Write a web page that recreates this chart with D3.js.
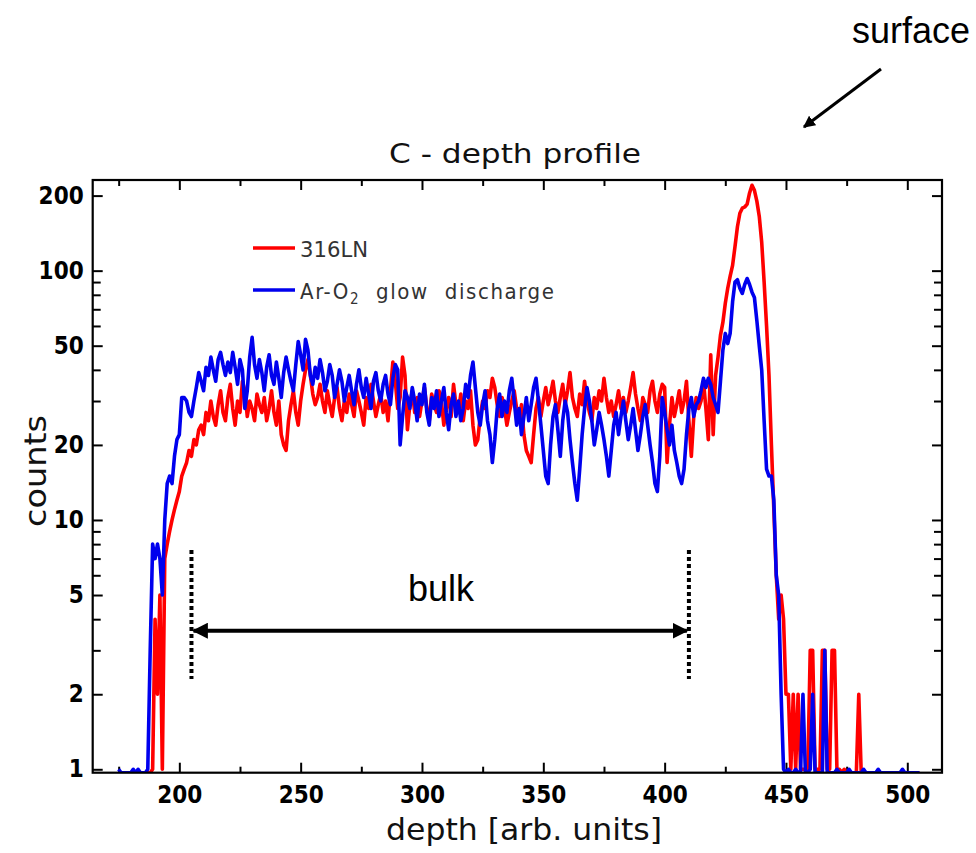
<!DOCTYPE html>
<html><head><meta charset="utf-8">
<script src="https://cdn.jsdelivr.net/npm/d3@7"></script>
<style>body{margin:0;background:#fff} svg{display:block}</style>
</head><body><svg id="c" width="976" height="853"></svg>
<script>
// ---------- DATA ----------
const depthStart = 175;   // depth of first sample, 1 unit per sample
const red316LN = [
  0,0,0,0,0,0,0,0,0,0,          // 175
  0,0,0,0,1,4,2,5,1,7,          // 185
  8,9,10,11,12,13,15,16,17,19,  // 195
  18,21,20,23,24,22,27,25,30,26,// 205
  24,29,33,27,25,31,35,28,24,30,// 215
  27,36,33,26,30,28,25,32,29,27,// 225
  31,25,28,33,27,24,30,22,20,19,// 235
  25,29,33,27,24,30,35,40,44,38,// 245
  32,29,31,35,30,27,33,29,26,31,// 255
  34,28,25,30,27,32,29,26,33,30,// 265
  27,24,31,28,35,30,26,29,32,27,// 275
  30,25,33,43,36,28,31,45,38,23,// 285
  29,33,27,31,26,30,34,28,25,32,// 295
  29,27,33,30,24,28,31,26,35,29,// 305
  27,32,25,30,28,33,24,20,21,26,// 315
  30,28,33,31,37,34,29,26,31,28,// 325
  24,27,30,33,28,25,29,22,19,18,// 335
  17,22,28,31,26,30,34,29,32,36,// 345
  30,27,31,35,29,33,39,31,28,26,// 355
  32,29,36,30,27,25,31,28,33,30,// 365
  37,31,27,30,26,29,33,28,31,27,// 375
  30,34,39,32,28,25,31,29,27,33,// 385
  36,30,27,32,35,34,17,24,31,26,// 395
  29,33,27,30,36,25,18,26,31,28,// 405
  30,36,28,21,46,22,38,45,55,62,// 415
  74,85,95,105,125,150,170,178,180,185, // 425
  205,220,210,190,165,130,90,60,38,20,  // 435
  11,6,4,5,4,2,2,1,2,1,         // 445
  2,1,1,1,1,3,3,1,1,1,          // 455
  3,3,1,1,3,3,1,1,0,1,          // 465
  0,0,0,0,0,2,0,0,0,0,          // 475
  0,0,0,0,0,0,0,0,0,0,          // 485
  0,0,0,0,0,0,0,0,0,0,          // 495
  0                             // 505
];
const blueArO2 = [
  1,0,0,0,0,0,1,0,1,0,          // 175
  0,0,1,3,8,7,8,7,5,10,         // 185
  14,15,14,18,21,22,31,31,30,27,// 195
  26,30,34,39,36,33,41,38,45,40,// 205
  36,44,47,42,38,43,39,47,41,35,// 215
  44,40,28,33,45,54,42,37,44,39,// 225
  33,41,46,38,35,43,37,31,39,45,// 235
  40,36,33,42,52,46,40,53,48,38,// 245
  35,41,37,44,39,33,36,42,38,31,// 255
  35,40,36,30,34,38,33,29,35,40,// 265
  34,31,37,32,28,36,39,33,30,35,// 275
  38,32,29,37,42,40,20,26,33,31,// 285
  28,34,30,25,32,29,35,27,24,31,// 295
  28,33,26,30,34,27,23,29,32,26,// 305
  30,25,28,35,31,38,43,34,27,24,// 315
  29,33,25,22,17,21,28,32,26,30,// 325
  27,33,37,30,24,28,22,26,31,25,// 335
  29,34,37,30,24,19,15,14,20,26,// 345
  29,23,18,25,30,27,21,17,14,12,// 355
  16,22,28,34,30,25,20,23,27,24,// 365
  21,18,15,19,24,27,22,26,30,25,// 375
  21,24,28,23,19,22,26,29,24,20,// 385
  17,14,13,18,31,27,23,20,24,19,// 395
  17,15,14,16,22,28,31,26,29,30,// 405
  33,37,34,37,35,31,29,27,36,48,// 415
  56,51,56,75,90,92,85,81,88,93,// 425
  88,82,78,63,50,40,25,16,15,15,// 435
  12,6,5,2,1,0,1,0,0,1,         // 445
  0,0,2,0,0,1,2,0,0,0,          // 455
  0,3,0,0,0,0,1,0,0,0,          // 465
  0,1,0,0,0,0,0,1,0,0,          // 475
  0,0,0,1,0,0,0,0,0,0,          // 485
  0,0,0,1,0,0,0,0,0,0,          // 495
  0                             // 505
];
const seriesNames = ["316LN", "Ar-O\u2082 glow discharge"];
const xTickLabels = [200, 250, 300, 350, 400, 450, 500];
const xMinorTicks = [175, 225, 275, 325, 375, 425, 475];
const yTickLabels = [1, 2, 5, 10, 20, 50, 100, 200];
const yMinorTicks = [3, 4, 6, 7, 8, 9, 30, 40, 60, 70, 80, 90];
const bulkRange = [205, 410];

// ---------- CHART ----------
const svg = d3.select("#c");
svg.append("rect").attr("width", 976).attr("height", 853).attr("fill", "#fff");

const L = 92.7, R = 942, T = 180, B = 772.7;
const yMin = 0.969, yMax = 231;
const x = d3.scaleLinear().domain([164.3, 514.3]).range([L, R]);
const y = d3.scaleLog().domain([yMin, yMax]).range([B, T]);

const tickFont = "'Liberation Sans Narrow','DejaVu Sans Condensed',sans-serif";

function styleAxis(g) {
  g.select(".domain").remove();
  g.selectAll(".tick line").attr("stroke", "#000").attr("stroke-width", 2);
  g.selectAll("text").attr("font-family", tickFont).attr("font-weight", "bold")
    .attr("font-size", 24).attr("fill", "#000");
}

// bottom axis
svg.append("g").attr("transform", `translate(0,${B})`)
  .call(d3.axisBottom(x).tickValues(xTickLabels).tickSize(-10).tickPadding(13).tickFormat(d3.format("d")))
  .call(styleAxis);
svg.append("g").attr("transform", `translate(0,${B})`)
  .call(d3.axisBottom(x).tickValues(xMinorTicks).tickSize(-6).tickFormat(""))
  .call(styleAxis);
// top axis
svg.append("g").attr("transform", `translate(0,${T})`)
  .call(d3.axisTop(x).tickValues(xTickLabels).tickSize(-10).tickFormat(""))
  .call(styleAxis);
svg.append("g").attr("transform", `translate(0,${T})`)
  .call(d3.axisTop(x).tickValues(xMinorTicks).tickSize(-6).tickFormat(""))
  .call(styleAxis);
// left axis
svg.append("g").attr("transform", `translate(${L},0)`)
  .call(d3.axisLeft(y).tickValues(yTickLabels).tickSize(-10).tickPadding(9).tickFormat(d3.format("d")))
  .call(styleAxis);
svg.append("g").attr("transform", `translate(${L},0)`)
  .call(d3.axisLeft(y).tickValues(yMinorTicks).tickSize(-8).tickFormat(""))
  .call(styleAxis);
// right axis
svg.append("g").attr("transform", `translate(${R},0)`)
  .call(d3.axisRight(y).tickValues(yTickLabels).tickSize(-10).tickFormat(""))
  .call(styleAxis);
svg.append("g").attr("transform", `translate(${R},0)`)
  .call(d3.axisRight(y).tickValues(yMinorTicks).tickSize(-8).tickFormat(""))
  .call(styleAxis);

// data lines
svg.append("clipPath").attr("id", "pc").append("rect")
  .attr("x", L).attr("y", T).attr("width", R - L).attr("height", B - T);
const line = d3.line()
  .x((d, i) => x(depthStart + i))
  .y(d => y(Math.max(d, yMin)))
  .curve(d3.curveLinear);
const plot = svg.append("g").attr("clip-path", "url(#pc)");
plot.append("path").datum(red316LN).attr("d", line)
  .attr("fill", "none").attr("stroke", "#ff0000").attr("stroke-width", 3.6).attr("stroke-linejoin", "round");
plot.append("path").datum(blueArO2).attr("d", line)
  .attr("fill", "none").attr("stroke", "#0000ee").attr("stroke-width", 3.6).attr("stroke-linejoin", "round");

// frame
svg.append("rect").attr("x", L).attr("y", T).attr("width", R - L).attr("height", B - T)
  .attr("fill", "none").attr("stroke", "#000").attr("stroke-width", 2.2);

// titles
const labFont = "'DejaVu Sans Condensed','DejaVu Sans',sans-serif";
svg.append("text").attr("x", 389).attr("y", 163).attr("font-family", labFont)
  .attr("font-size", 26).attr("fill", "#111").attr("textLength", 252).attr("lengthAdjust", "spacingAndGlyphs")
  .text("C - depth profile");
svg.append("text").attr("x", 386).attr("y", 840).attr("font-family", labFont)
  .attr("font-size", 30).attr("fill", "#111").attr("textLength", 276).attr("lengthAdjust", "spacingAndGlyphs")
  .text("depth [arb. units]");
svg.append("text").attr("transform", "translate(46,527) rotate(-90)").attr("font-family", labFont)
  .attr("font-size", 30).attr("fill", "#111").attr("textLength", 112).attr("lengthAdjust", "spacingAndGlyphs")
  .text("counts");

// legend
const legColors = ["#ff0000", "#0000ee"];
const legY = [248, 290];
seriesNames.forEach((name, i) => {
  svg.append("line").attr("x1", 253).attr("x2", 295).attr("y1", legY[i]).attr("y2", legY[i])
    .attr("stroke", legColors[i]).attr("stroke-width", 3.5);
});
svg.append("text").attr("x", 300).attr("y", legY[0] + 9).attr("font-family", labFont)
  .attr("font-size", 22).attr("fill", "#333").attr("textLength", 68).attr("lengthAdjust", "spacingAndGlyphs")
  .text("316LN");
const t2 = svg.append("text").attr("x", 300).attr("y", legY[1] + 9).attr("font-family", labFont)
  .attr("font-size", 22).attr("fill", "#333").attr("letter-spacing", 1.6).attr("word-spacing", 8);
t2.append("tspan").text("Ar-O");
t2.append("tspan").attr("font-size", 15).attr("dy", 5).text("2");
t2.append("tspan").attr("dy", -5).text(" glow discharge");

// annotations
const defs = svg.append("defs");
defs.append("marker").attr("id", "ah").attr("viewBox", "0 0 10 10").attr("refX", 9).attr("refY", 5)
  .attr("markerWidth", 4).attr("markerHeight", 4).attr("orient", "auto-start-reverse")
  .attr("markerUnits", "strokeWidth")
  .append("path").attr("d", "M0,0L10,5L0,10Z").attr("fill", "#000");

const yArrow = 630.7;
svg.append("line").attr("x1", x(bulkRange[0]) + 2).attr("x2", x(bulkRange[1]) - 2)
  .attr("y1", yArrow).attr("y2", yArrow).attr("stroke", "#000").attr("stroke-width", 4)
  .attr("marker-start", "url(#ah)").attr("marker-end", "url(#ah)");
bulkRange.forEach(d => {
  svg.append("line").attr("x1", x(d)).attr("x2", x(d)).attr("y1", 550).attr("y2", 679)
    .attr("stroke", "#000").attr("stroke-width", 4).attr("stroke-dasharray", "4,3");
});
svg.append("text").attr("x", 441).attr("y", 601).attr("text-anchor", "middle")
  .attr("font-family", "Arial, 'Liberation Sans', sans-serif").attr("font-size", 36).attr("fill", "#000")
  .text("bulk");
svg.append("text").attr("x", 970).attr("y", 43).attr("text-anchor", "end")
  .attr("font-family", "Arial, 'Liberation Sans', sans-serif").attr("font-size", 36).attr("fill", "#000")
  .text("surface");
svg.append("line").attr("x1", 881).attr("y1", 69).attr("x2", 804).attr("y2", 127)
  .attr("stroke", "#000").attr("stroke-width", 3).attr("marker-end", "url(#ah)");
</script></body></html>
